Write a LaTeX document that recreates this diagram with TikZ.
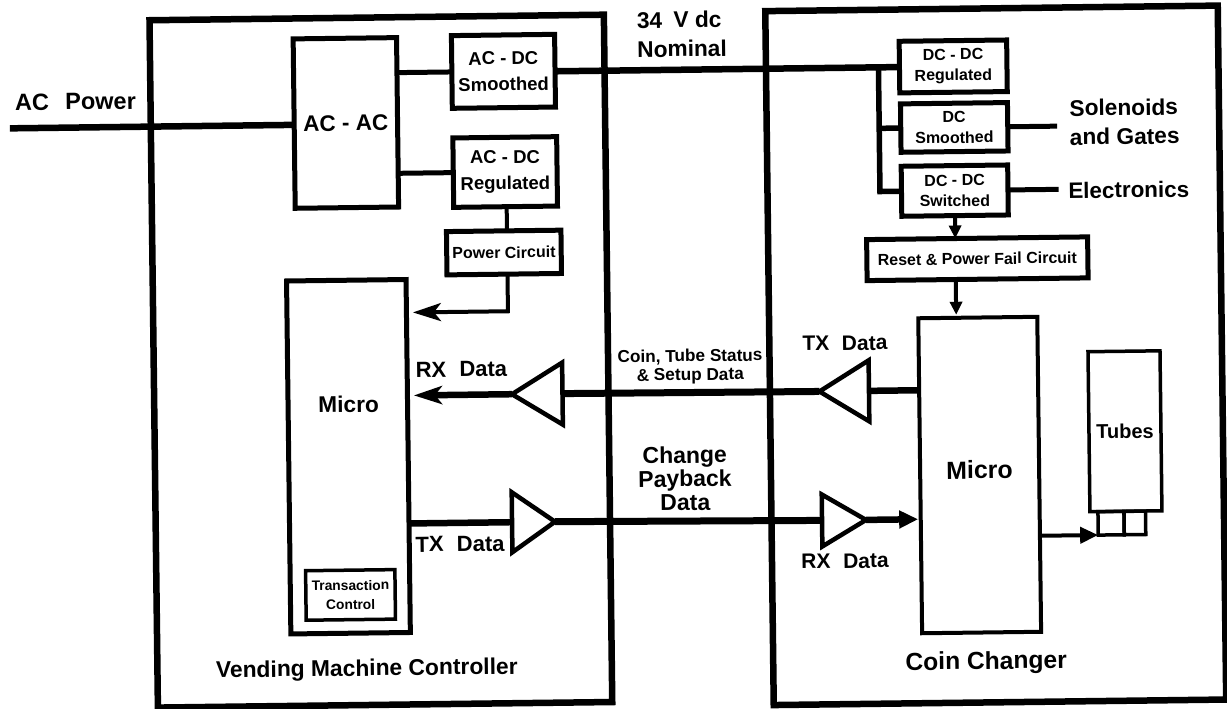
\documentclass[tikz,border=0pt]{standalone}
\usepackage{fontspec}
\setmainfont{Liberation Sans}
\usetikzlibrary{positioning, shapes.geometric, arrows.meta, calc}
\newcommand{\fsz}[2]{\fontsize{#1}{#2}\selectfont\bfseries}
\tikzset{
  outerbox/.style={draw, line width=6.5pt, outer sep=0pt, inner sep=0pt},
  blockbox/.style={draw, line width=5pt, outer sep=0pt, inner sep=0pt, align=center},
  thinbox/.style={draw, line width=3.5pt, outer sep=0pt, inner sep=0pt, align=center},
  lbl/.style={inner sep=0pt, outer sep=0pt},
  buffer/.style={draw, isosceles triangle, isosceles triangle stretches, line width=4.5pt,
    inner sep=0pt, outer sep=0pt},
  thickline/.style={line width=6.5pt},
  midline/.style={line width=5pt},
  thinline/.style={line width=4pt},
  bigtip/.style={-{Stealth[length=28pt,width=18pt,inset=7pt]}},
  smalltip/.style={-{Triangle[length=13pt,width=12pt]}},
}
\begin{document}
\begin{tikzpicture}[x=1pt,y=-1pt]
  \useasboundingbox (0,0) rectangle (1227,709);
  \begin{scope}[rotate around={0.7:(613,354)}, transform shape]
    % outer frames
    \node[outerbox, minimum width=454.4pt, minimum height=687.4pt] (vmc) at (380.8,358.3) {};
    \node[outerbox, minimum width=452.5pt, minimum height=694pt] (changer) at (995.7,360) {};

    % controller side
    \node[blockbox, minimum width=103.4pt, minimum height=169.4pt, font=\fsz{22.5}{26}] (acac) at (348.7,119.7) {AC - AC};
    \node[blockbox, minimum width=103.2pt, minimum height=72.7pt, font=\fsz{18.5}{26}] (acdcsm) at (506.9,70) {AC - DC\\Smoothed};
    \node[blockbox, minimum width=103.8pt, minimum height=69.4pt, font=\fsz{18.5}{26}] (acdcrg) at (507.4,170.7) {AC - DC\\Regulated};
    \node[blockbox, minimum width=114.5pt, minimum height=43.3pt, font=\fsz{16}{20}] (power) at (505.2,251.2) {Power Circuit};
    \node[blockbox, minimum width=119.5pt, minimum height=353pt] (microl) at (347.2,453.5) {};
    \node[thinbox, minimum width=89.3pt, minimum height=49.5pt, font=\fsz{13.8}{19}] (trans) at (347.6,591.7) {Transaction\\Control};
    \node[buffer, shape border rotate=180, minimum height=50.5pt, minimum width=62pt, anchor=apex] (rxamp) at (511.5,393) {};
    \node[buffer, minimum height=43pt, minimum width=60pt, anchor=apex] (txamp) at (553,521) {};

    % changer side
    \node[blockbox, minimum width=107.5pt, minimum height=51.6pt, font=\fsz{16}{20.5}] (dcreg) at (956.7,70.6) {DC - DC\\Regulated};
    \node[blockbox, minimum width=107pt, minimum height=48.4pt, font=\fsz{16}{20.5}] (dcsm) at (957,131.6) {DC\\Smoothed};
    \node[blockbox, minimum width=106.5pt, minimum height=50pt, font=\fsz{16}{20.5}] (dcsw) at (956.7,194.8) {DC - DC\\Switched};
    \node[blockbox, minimum width=221pt, minimum height=41pt, font=\fsz{16}{20}] (reset) at (978.5,263.2) {Reset \& Power Fail Circuit};
    \node[blockbox, line width=4pt, minimum width=119pt, minimum height=315pt] (micror) at (978.2,479.5) {};
    \node[thinbox, minimum width=72pt, minimum height=160pt, font=\fsz{20}{24}] (tubes) at (1124,437.5) {Tubes};
    \node[thinbox, minimum width=26pt, minimum height=23.4pt] (foota) at (1109,529.3) {};
    \node[thinbox, minimum width=21.5pt, minimum height=23.4pt] (footb) at (1132.8,529.3) {};
    \node[buffer, shape border rotate=180, minimum height=49.5pt, minimum width=61pt, anchor=apex] (txampr) at (819,394) {};
    \node[buffer, minimum height=44pt, minimum width=52pt, anchor=apex] (rxampr) at (864,523) {};

    % free ends
    \coordinate (acin) at (12.7,121);
    \coordinate (bus) at (882,70.6);
    \coordinate (solout) at (1060,131.6);
    \coordinate (elecout) at (1060.6,194.8);
    \coordinate (pwrbend) at (508.5,310);

    % power connectors
    \draw[thickline] (acin) -- (acac.west |- acin);
    \draw[midline] (acac.east |- acdcsm.west) -- (acdcsm.west);
    \draw[midline] (acac.east |- acdcrg.west) -- (acdcrg.west);
    \draw[thickline] (acdcsm.east |- dcreg.west) -- (dcreg.west);
    \draw[line width=5.5pt] (bus) |- (dcsw.west);
    \draw[line width=5.5pt] (bus |- dcsm.west) -- (dcsm.west);
    \draw[midline] (dcsm.east) -- (solout);
    \draw[midline] (dcsw.east) -- (elecout);
    \draw[thinline] (acdcrg.south -| pwrbend) -- (power.north -| pwrbend);
    \draw[thinline, bigtip, shorten >=6.5pt] (power.south -| pwrbend) |- (microl.east |- pwrbend);
    \draw[thinline, smalltip] (dcsw.south) -- (reset.north -| dcsw.south);
    \draw[thinline, smalltip, shorten >=3pt] (reset.south -| dcsw.south) -- (micror.north -| dcsw.south);

    % data connectors
    \draw[thickline, bigtip, shorten >=6.5pt] (rxamp.apex) -- (microl.east |- rxamp.apex);
    \draw[line width=7pt] (txampr.apex) -- (rxamp.lower side);
    \draw[thickline] (micror.west |- txampr.lower side) -- (txampr.lower side);
    \draw[thickline] (microl.east |- txamp.lower side) -- (txamp.lower side);
    \draw[line width=7pt] (txamp.apex) -- (rxampr.lower side);
    \draw[thickline, -{Triangle[length=19pt,width=17pt]}, shorten >=2.5pt] (rxampr.apex) -- (micror.west |- rxampr.apex);
    \draw[thinline, -{Triangle[length=18pt,width=16pt]}] (micror.east |- foota.south west) -- (foota.south west);

    % labels
    \node[lbl, font=\fsz{23.5}{28}] (acpowerlbl) at (78.5,95) {AC\hspace{.7em}Power};
    \node[lbl, font=\fsz{22.7}{29}, anchor=west, align=left] (nominallbl) at (641,35) {34\hspace{.5em}V dc\\Nominal};
    \node[lbl, font=\fsz{22.7}{29}, anchor=west, align=left] (solenoidlbl) at (1072.5,128) {Solenoids\\and Gates};
    \node[lbl, font=\fsz{22.4}{27}, anchor=west] (electronicslbl) at (1070.4,196) {Electronics};
    \node[lbl, font=\fsz{22}{26}] (rxlbl) at (461.2,367.5) {RX\hspace{.6em}Data};
    \node[lbl, font=\fsz{22}{26}] (txlbl) at (457.7,542.2) {TX\hspace{.6em}Data};
    \node[lbl, font=\fsz{22.7}{26}] (microllbl) at (348,401) {Micro};
    \node[lbl, font=\fsz{22.8}{27}] (vmclbl) at (363,667) {Vending Machine Controller};
    \node[lbl, font=\fsz{17.2}{18.7}, align=center] (statuslbl) at (690,367.6) {Coin, Tube Status\\\& Setup Data};
    \node[lbl, font=\fsz{23}{23.7}, align=center] (paybacklbl) at (683.5,479.4) {Change\\Payback\\Data};
    \node[lbl, font=\fsz{21}{26}] (txrlbl) at (845,346) {TX\hspace{.6em}Data};
    \node[lbl, font=\fsz{21}{26}] (rxrlbl) at (842.5,564) {RX\hspace{.6em}Data};
    \node[lbl, font=\fsz{24.9}{28}] (microrlbl) at (978,474.4) {Micro};
    \node[lbl, font=\fsz{24.6}{28}] (changerlbl) at (982.4,667.5) {Coin Changer};
  \end{scope}
\end{tikzpicture}
\end{document}
